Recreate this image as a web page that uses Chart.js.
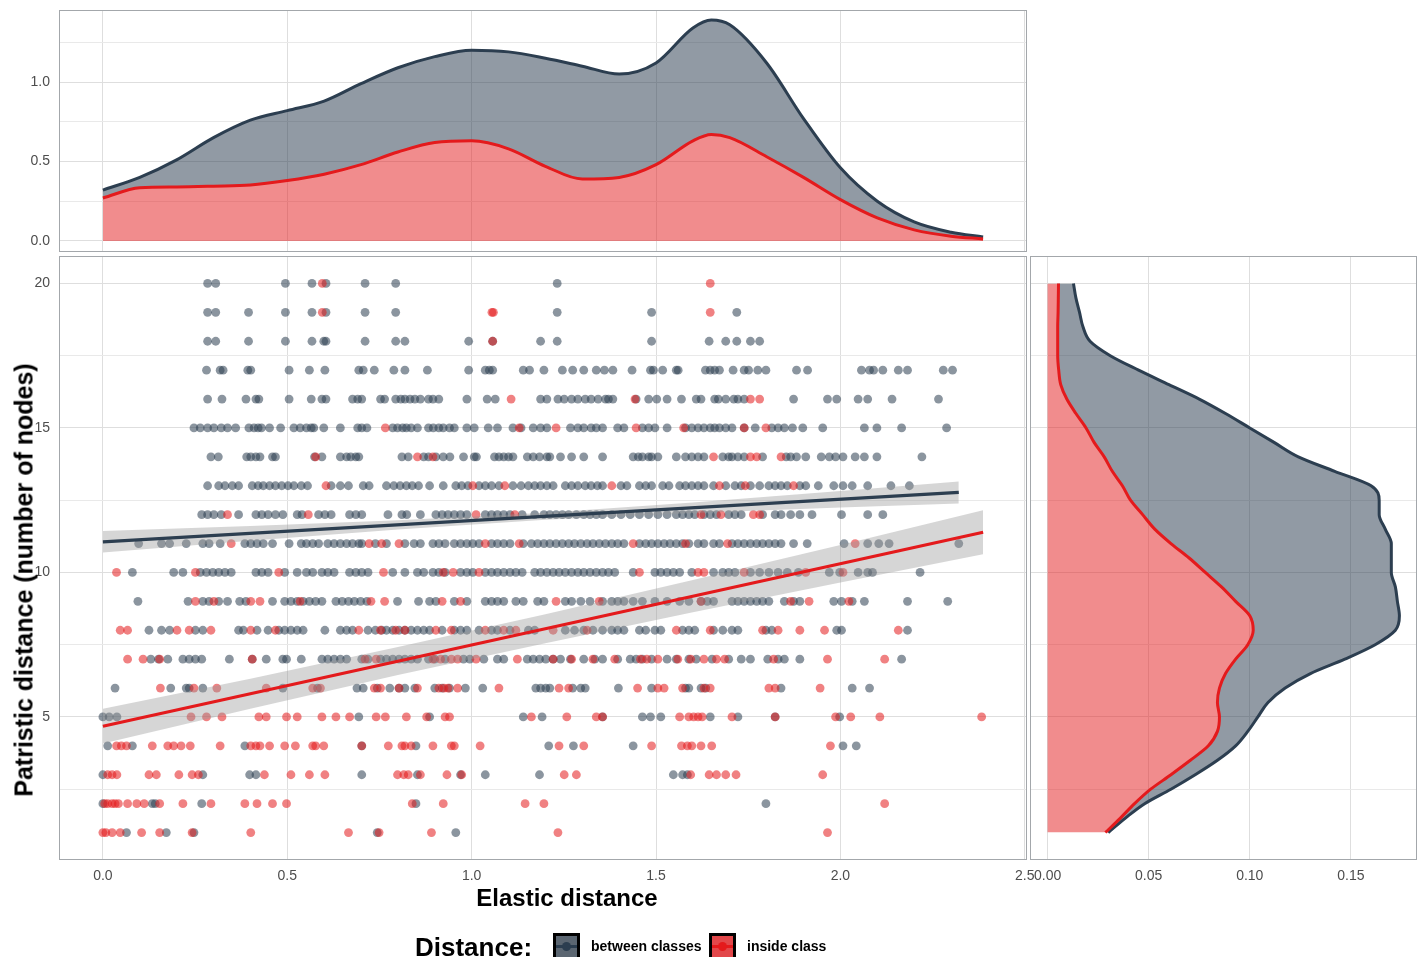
<!DOCTYPE html>
<html>
<head>
<meta charset="utf-8">
<title>Elastic vs patristic distance</title>
<script src="https://cdn.jsdelivr.net/npm/chart.js@4.4.1/dist/chart.umd.min.js"></script>
<style>
  html, body { margin: 0; padding: 0; background: #ffffff; }
  #page { position: relative; width: 1421px; height: 957px; overflow: hidden;
          font-family: "Liberation Sans", Arial, Helvetica, sans-serif; color: #000; }
  #page canvas { position: absolute; }
  .txt { position: absolute; white-space: nowrap; font-weight: bold; }
  .ytitle { left: 24px; top: 580px; font-size: 25px; line-height: 25px;
            transform: translate(-50%, -50%) rotate(-90deg); }
  .xtitle { left: 567px; top: 886px; font-size: 24px; line-height: 24px; transform: translateX(-50%); }
  .legtitle { left: 415px; top: 934px; font-size: 26px; line-height: 26px; }
  .legtext { top: 939px; font-size: 14px; line-height: 14px; }
  .key { position: absolute; top: 933px; width: 27px; height: 27px; box-sizing: border-box;
         border: 3px solid #000; overflow: hidden; }
  .key .kline { position: absolute; left: 0; right: 0; top: 9px; height: 3px; }
  .key .kdot { position: absolute; left: 6px; top: 6px; width: 9px; height: 9px; border-radius: 50%; }
</style>
</head>
<body>
<div id="page">
  <canvas id="topDensity" width="1030" height="256" style="left:0px;top:0px"></canvas>
  <canvas id="scatter" width="1045" height="707" style="left:0px;top:250px"></canvas>
  <canvas id="rightDensity" width="401" height="707" style="left:1020px;top:250px"></canvas>

  <div class="txt ytitle">Patristic distance (number of nodes)</div>
  <div class="txt xtitle">Elastic distance</div>

  <div class="txt legtitle">Distance:</div>
  <div class="key" style="left:553px;background:#5b6671"><span class="kline" style="background:#2c3e50"></span><span class="kdot" style="background:#2c3e50"></span></div>
  <div class="txt legtext" style="left:591px">between classes</div>
  <div class="key" style="left:709px;background:#e2474a"><span class="kline" style="background:#e41a1c"></span><span class="kdot" style="background:#e41a1c"></span></div>
  <div class="txt legtext" style="left:747px">inside class</div>
</div>

<script>
// ---------- scatter points: elastic distance per patristic level ----------
const levels = [1, 2, 3, 4, 5, 6, 7, 8, 9, 10, 11, 12, 13, 14, 15, 16, 17, 18, 19, 20];

const betweenL1 = [0.064, 0.172, 0.247, 0.744, 0.957];
const betweenL2 = [0.000, 0.134, 0.142, 0.268, 0.849, 1.798];
const betweenL3 = [0.000, 0.271, 0.398, 0.415, 0.702, 0.853, 0.970, 1.037, 1.184, 1.547, 1.572, 1.585];
const betweenL4 = [0.013, 0.080, 0.385, 0.702, 0.849, 1.209, 1.276, 1.438, 2.007, 2.043];
const betweenL5 = [0.000, 0.017, 0.038, 0.694, 0.886, 1.140, 1.191, 1.355, 1.463, 1.485, 1.513, 1.647, 1.722, 1.823, 1.998];
const betweenL6 = [0.033, 0.184, 0.226, 0.234, 0.271, 0.488, 0.582, 0.689, 0.706, 0.744, 0.778, 0.803, 0.819, 0.846, 0.900, 0.920, 0.940, 0.983, 1.030, 1.174, 1.187, 1.201, 1.212, 1.274, 1.296, 1.308, 1.398, 1.488, 1.580, 1.589, 1.622, 1.635, 1.839, 2.032, 2.079];
const betweenL7 = [0.130, 0.151, 0.176, 0.217, 0.234, 0.251, 0.268, 0.343, 0.405, 0.443, 0.488, 0.498, 0.538, 0.594, 0.610, 0.627, 0.644, 0.661, 0.702, 0.719, 0.753, 0.769, 0.786, 0.803, 0.819, 0.836, 0.853, 0.883, 0.900, 0.928, 0.978, 0.995, 1.033, 1.070, 1.087, 1.151, 1.167, 1.184, 1.201, 1.221, 1.241, 1.268, 1.304, 1.334, 1.355, 1.396, 1.430, 1.446, 1.463, 1.488, 1.530, 1.555, 1.589, 1.609, 1.652, 1.697, 1.731, 1.756, 1.803, 1.831, 1.848, 1.890, 2.166];
const betweenL8 = [0.125, 0.159, 0.181, 0.251, 0.271, 0.368, 0.381, 0.418, 0.448, 0.477, 0.493, 0.510, 0.527, 0.543, 0.602, 0.644, 0.661, 0.677, 0.719, 0.739, 0.756, 0.769, 0.786, 0.803, 0.819, 0.836, 0.853, 0.870, 0.886, 0.920, 0.953, 0.970, 0.987, 1.020, 1.054, 1.070, 1.104, 1.154, 1.171, 1.254, 1.279, 1.304, 1.329, 1.355, 1.380, 1.396, 1.413, 1.455, 1.472, 1.497, 1.513, 1.572, 1.589, 1.605, 1.656, 1.681, 1.706, 1.722, 1.798, 1.814, 1.990, 2.003, 2.182];
const betweenL9 = [0.095, 0.231, 0.271, 0.288, 0.314, 0.338, 0.371, 0.388, 0.460, 0.493, 0.510, 0.527, 0.543, 0.560, 0.577, 0.594, 0.632, 0.649, 0.666, 0.682, 0.699, 0.716, 0.799, 0.856, 0.886, 0.903, 0.953, 0.987, 1.037, 1.054, 1.070, 1.087, 1.120, 1.140, 1.179, 1.196, 1.254, 1.271, 1.296, 1.321, 1.355, 1.380, 1.396, 1.413, 1.438, 1.463, 1.497, 1.530, 1.564, 1.589, 1.622, 1.639, 1.656, 1.706, 1.722, 1.739, 1.756, 1.773, 1.789, 1.806, 1.848, 1.873, 1.890, 1.982, 2.003, 2.032, 2.065, 2.182, 2.291];
const betweenL10 = [0.080, 0.192, 0.217, 0.264, 0.281, 0.298, 0.314, 0.331, 0.348, 0.415, 0.431, 0.448, 0.493, 0.527, 0.552, 0.569, 0.594, 0.610, 0.627, 0.669, 0.686, 0.702, 0.719, 0.786, 0.819, 0.853, 0.870, 0.895, 0.911, 0.928, 0.970, 0.987, 1.003, 1.037, 1.054, 1.070, 1.087, 1.104, 1.120, 1.137, 1.171, 1.187, 1.204, 1.221, 1.237, 1.254, 1.271, 1.288, 1.304, 1.321, 1.338, 1.355, 1.371, 1.388, 1.438, 1.497, 1.513, 1.530, 1.547, 1.564, 1.597, 1.656, 1.681, 1.697, 1.714, 1.756, 1.781, 1.806, 1.831, 1.856, 1.886, 1.970, 1.998, 2.048, 2.074, 2.087, 2.216];
const betweenL11 = [0.097, 0.159, 0.181, 0.226, 0.271, 0.288, 0.318, 0.385, 0.401, 0.418, 0.435, 0.460, 0.505, 0.538, 0.552, 0.569, 0.585, 0.610, 0.627, 0.644, 0.661, 0.677, 0.694, 0.702, 0.739, 0.769, 0.819, 0.844, 0.861, 0.895, 0.911, 0.928, 0.953, 0.970, 0.987, 1.003, 1.020, 1.054, 1.070, 1.087, 1.104, 1.140, 1.162, 1.179, 1.196, 1.212, 1.229, 1.246, 1.263, 1.279, 1.296, 1.313, 1.329, 1.346, 1.363, 1.380, 1.396, 1.413, 1.455, 1.472, 1.488, 1.505, 1.522, 1.538, 1.555, 1.572, 1.589, 1.614, 1.630, 1.656, 1.672, 1.706, 1.722, 1.739, 1.756, 1.773, 1.789, 1.806, 1.823, 1.839, 1.873, 1.910, 2.010, 2.074, 2.104, 2.132, 2.321];
const betweenL12 = [0.268, 0.284, 0.301, 0.321, 0.368, 0.415, 0.431, 0.448, 0.468, 0.488, 0.527, 0.540, 0.585, 0.602, 0.619, 0.669, 0.686, 0.702, 0.773, 0.811, 0.824, 0.861, 0.903, 0.920, 0.936, 0.953, 0.970, 0.987, 1.037, 1.054, 1.070, 1.087, 1.104, 1.137, 1.171, 1.196, 1.212, 1.229, 1.246, 1.263, 1.284, 1.304, 1.321, 1.338, 1.355, 1.380, 1.405, 1.430, 1.455, 1.480, 1.505, 1.530, 1.555, 1.572, 1.589, 1.605, 1.630, 1.647, 1.664, 1.697, 1.714, 1.731, 1.789, 1.823, 1.839, 1.865, 1.890, 1.923, 2.003, 2.074, 2.115];
const betweenL13 = [0.284, 0.314, 0.331, 0.351, 0.368, 0.405, 0.421, 0.435, 0.452, 0.468, 0.485, 0.502, 0.518, 0.538, 0.555, 0.619, 0.644, 0.666, 0.706, 0.722, 0.769, 0.789, 0.806, 0.823, 0.839, 0.856, 0.886, 0.923, 0.957, 0.973, 0.990, 1.020, 1.037, 1.054, 1.074, 1.112, 1.134, 1.154, 1.171, 1.187, 1.204, 1.221, 1.254, 1.271, 1.288, 1.308, 1.324, 1.341, 1.355, 1.405, 1.421, 1.455, 1.472, 1.488, 1.518, 1.535, 1.564, 1.580, 1.597, 1.614, 1.630, 1.656, 1.689, 1.714, 1.731, 1.756, 1.781, 1.806, 1.823, 1.839, 1.856, 1.890, 1.906, 1.940, 1.982, 2.007, 2.032, 2.074, 2.137, 2.187];
const betweenL14 = [0.293, 0.313, 0.390, 0.401, 0.415, 0.426, 0.460, 0.468, 0.574, 0.594, 0.644, 0.661, 0.672, 0.686, 0.694, 0.811, 0.828, 0.870, 0.883, 0.903, 0.923, 0.941, 0.978, 1.007, 1.013, 1.062, 1.074, 1.087, 1.100, 1.112, 1.151, 1.167, 1.184, 1.204, 1.212, 1.241, 1.271, 1.304, 1.355, 1.438, 1.452, 1.463, 1.480, 1.488, 1.505, 1.555, 1.580, 1.597, 1.614, 1.630, 1.681, 1.697, 1.706, 1.722, 1.739, 1.789, 1.853, 1.865, 1.881, 1.906, 1.948, 1.970, 1.987, 2.007, 2.040, 2.065, 2.099, 2.221];
const betweenL15 = [0.247, 0.264, 0.284, 0.301, 0.321, 0.338, 0.360, 0.396, 0.410, 0.421, 0.430, 0.452, 0.482, 0.518, 0.535, 0.552, 0.565, 0.572, 0.599, 0.644, 0.691, 0.702, 0.716, 0.786, 0.799, 0.813, 0.823, 0.836, 0.853, 0.883, 0.896, 0.911, 0.923, 0.940, 0.953, 0.987, 1.007, 1.045, 1.070, 1.112, 1.134, 1.167, 1.187, 1.204, 1.268, 1.288, 1.304, 1.324, 1.338, 1.355, 1.396, 1.413, 1.463, 1.480, 1.497, 1.530, 1.580, 1.597, 1.614, 1.630, 1.647, 1.659, 1.672, 1.689, 1.706, 1.739, 1.769, 1.814, 1.831, 1.848, 1.870, 1.898, 1.952, 2.065, 2.099, 2.166, 2.288];
const betweenL16 = [0.284, 0.323, 0.388, 0.415, 0.423, 0.505, 0.565, 0.594, 0.605, 0.677, 0.691, 0.702, 0.753, 0.764, 0.794, 0.808, 0.819, 0.833, 0.846, 0.861, 0.883, 0.895, 0.911, 0.987, 1.042, 1.064, 1.187, 1.204, 1.234, 1.251, 1.271, 1.288, 1.308, 1.324, 1.343, 1.363, 1.371, 1.383, 1.446, 1.480, 1.502, 1.530, 1.569, 1.609, 1.622, 1.659, 1.669, 1.689, 1.711, 1.722, 1.739, 1.873, 1.965, 1.990, 2.048, 2.074, 2.140, 2.266];
const betweenL17 = [0.281, 0.318, 0.326, 0.393, 0.401, 0.505, 0.560, 0.602, 0.694, 0.706, 0.736, 0.789, 0.819, 0.880, 0.992, 1.037, 1.048, 1.057, 1.140, 1.157, 1.196, 1.246, 1.274, 1.304, 1.338, 1.360, 1.383, 1.435, 1.485, 1.493, 1.518, 1.555, 1.560, 1.634, 1.647, 1.659, 1.672, 1.709, 1.739, 1.751, 1.776, 1.798, 1.881, 1.911, 2.057, 2.079, 2.090, 2.115, 2.157, 2.182, 2.279, 2.304];
const betweenL18 = [0.284, 0.306, 0.395, 0.495, 0.567, 0.599, 0.605, 0.711, 0.794, 0.819, 0.992, 1.057, 1.187, 1.232, 1.488, 1.644, 1.689, 1.719, 1.756, 1.781];
const betweenL19 = [0.284, 0.306, 0.395, 0.495, 0.567, 0.605, 0.711, 0.794, 1.232, 1.488, 1.719];
const betweenL20 = [0.284, 0.306, 0.495, 0.567, 0.605, 0.711, 0.794, 1.232];

const insideL1 = [0.000, 0.008, 0.025, 0.047, 0.105, 0.154, 0.242, 0.401, 0.666, 0.749, 0.891, 1.234, 1.965];
const insideL2 = [0.005, 0.013, 0.025, 0.033, 0.042, 0.067, 0.092, 0.112, 0.154, 0.217, 0.293, 0.385, 0.418, 0.460, 0.498, 0.839, 0.923, 1.145, 1.196, 2.120];
const insideL3 = [0.013, 0.025, 0.038, 0.125, 0.145, 0.206, 0.242, 0.259, 0.438, 0.510, 0.560, 0.602, 0.799, 0.816, 0.828, 0.861, 0.933, 0.973, 1.251, 1.284, 1.594, 1.644, 1.664, 1.689, 1.717, 1.952];
const insideL4 = [0.037, 0.050, 0.064, 0.134, 0.176, 0.192, 0.212, 0.237, 0.318, 0.401, 0.415, 0.426, 0.452, 0.493, 0.522, 0.569, 0.577, 0.599, 0.702, 0.774, 0.811, 0.819, 0.836, 0.895, 0.945, 0.953, 1.023, 1.237, 1.304, 1.488, 1.569, 1.585, 1.597, 1.622, 1.651, 1.973];
const insideL5 = [0.239, 0.281, 0.323, 0.423, 0.443, 0.498, 0.527, 0.594, 0.632, 0.669, 0.741, 0.766, 0.823, 0.878, 0.928, 0.940, 1.162, 1.258, 1.338, 1.355, 1.564, 1.589, 1.602, 1.614, 1.625, 1.706, 1.823, 1.987, 2.028, 2.107, 2.383];
const insideL6 = [0.156, 0.247, 0.309, 0.443, 0.569, 0.590, 0.736, 0.753, 0.803, 0.853, 0.911, 0.925, 0.936, 0.962, 1.074, 1.237, 1.263, 1.450, 1.505, 1.522, 1.572, 1.630, 1.647, 1.806, 1.823, 1.945];
const insideL7 = [0.067, 0.109, 0.154, 0.405, 0.711, 0.741, 0.895, 0.916, 0.945, 0.962, 1.012, 1.124, 1.221, 1.271, 1.329, 1.388, 1.458, 1.475, 1.505, 1.559, 1.594, 1.630, 1.664, 1.686, 1.819, 1.965, 2.120];
const insideL8 = [0.047, 0.067, 0.201, 0.234, 0.293, 0.401, 0.468, 0.694, 0.753, 0.794, 0.819, 0.903, 0.945, 1.037, 1.087, 1.120, 1.221, 1.313, 1.555, 1.647, 1.789, 1.831, 1.890, 1.957, 2.157];
const insideL9 = [0.251, 0.301, 0.401, 0.426, 0.535, 0.727, 0.764, 0.920, 0.970, 1.229, 1.346, 1.622, 1.865, 1.915, 2.023];
const insideL10 = [0.037, 0.251, 0.477, 0.761, 0.923, 0.950, 1.020, 1.455, 1.614, 1.630, 1.739, 1.906, 2.007];
const insideL11 = [0.348, 0.722, 0.756, 0.803, 1.037, 1.129, 1.438, 1.580, 1.694, 2.040];
const insideL12 = [0.338, 0.557, 1.012, 1.117, 1.622, 1.676, 1.764, 1.781];
const insideL13 = [0.605, 1.003, 1.090, 1.380, 1.672, 1.742, 1.873];
const insideL14 = [0.577, 0.853, 0.895, 1.656, 1.756, 1.773, 1.839];
const insideL15 = [0.766, 1.129, 1.229, 1.446, 1.575, 1.739, 1.798];
const insideL16 = [1.107, 1.443, 1.756, 1.781];
const insideL17 = [];
const insideL18 = [1.057];
const insideL19 = [0.595, 1.055, 1.059, 1.647];
const insideL20 = [0.595, 1.647];

// ---------- linear fits with confidence bands ----------
const fitBetweenX = [0, 2.321];
const fitBetweenY = [11.06, 12.77];
const bandBetweenX = [0, 0.4, 0.8, 1.2, 1.6, 2.0, 2.321];
const bandBetweenLow = [10.69, 11.10, 11.49, 11.82, 12.06, 12.25, 12.39];
const bandBetweenHigh = [11.43, 11.61, 11.81, 12.07, 12.42, 12.82, 13.15];

const fitInsideX = [0, 2.387];
const fitInsideY = [4.68, 11.39];
const bandInsideX = [0, 0.4, 0.8, 1.2, 1.6, 2.0, 2.387];
const bandInsideLow = [4.08, 5.28, 6.45, 7.55, 8.62, 9.65, 10.63];
const bandInsideHigh = [5.28, 6.32, 7.42, 8.55, 9.74, 10.95, 12.15];

// ---------- marginal densities (stacked: inside class, then total) ----------
const topDensX = [0, 0.1, 0.2, 0.3, 0.4, 0.5, 0.6, 0.7, 0.8, 0.9, 1.0, 1.1, 1.2, 1.3, 1.4, 1.5, 1.6, 1.65, 1.7, 1.8, 1.9, 2.0, 2.1, 2.2, 2.3, 2.387];
const topInside = [0.27, 0.335, 0.34, 0.345, 0.352, 0.38, 0.42, 0.48, 0.56, 0.62, 0.63, 0.58, 0.47, 0.39, 0.40, 0.48, 0.63, 0.67, 0.65, 0.53, 0.40, 0.26, 0.145, 0.07, 0.03, 0.013];
const topTotal = [0.32, 0.40, 0.51, 0.65, 0.76, 0.82, 0.88, 0.99, 1.09, 1.16, 1.20, 1.19, 1.15, 1.10, 1.05, 1.12, 1.34, 1.39, 1.36, 1.12, 0.77, 0.46, 0.25, 0.12, 0.055, 0.025];

const rightLevels = [1, 1.5, 2, 2.5, 3, 3.5, 4, 4.5, 5, 5.5, 6, 6.5, 7, 7.5, 8, 8.5, 9, 9.5, 10, 10.5, 11, 11.5, 12, 12.5, 13, 13.5, 14, 14.5, 15, 15.5, 16, 16.5, 17, 17.5, 18, 18.5, 19, 19.5, 20];
const rightInside = [0.0286, 0.036, 0.043, 0.051, 0.061, 0.0706, 0.0795, 0.084, 0.085, 0.084, 0.085, 0.088, 0.093, 0.099, 0.1017, 0.100, 0.093, 0.086, 0.078, 0.070, 0.061, 0.053, 0.047, 0.041, 0.037, 0.032, 0.028, 0.023, 0.019, 0.014, 0.0095, 0.0065, 0.0055, 0.005, 0.005, 0.005, 0.0052, 0.0053, 0.0054];
const rightTotal = [0.030, 0.0385, 0.048, 0.061, 0.073, 0.084, 0.093, 0.099, 0.104, 0.109, 0.1175, 0.130, 0.147, 0.162, 0.172, 0.174, 0.173, 0.172, 0.170, 0.170, 0.170, 0.167, 0.164, 0.164, 0.160, 0.142, 0.124, 0.112, 0.100, 0.088, 0.075, 0.060, 0.045, 0.031, 0.021, 0.0175, 0.0158, 0.014, 0.0128];

// ---------- axis ticks ----------
const elasticTicks = [0, 0.5, 1, 1.5, 2, 2.5];
const elasticLabels = ['0.0', '0.5', '1.0', '1.5', '2.0', '2.5'];
const topDensTicks = [0, 0.25, 0.5, 0.75, 1, 1.25];
const topDensLabels = ['0.0', '', '0.5', '', '1.0', ''];
const patristicTicks = [2.5, 5, 7.5, 10, 12.5, 15, 17.5, 20];
const patristicLabels = ['', '5', '', '10', '', '15', '', '20'];
const rightDensTicks = [0, 0.05, 0.1, 0.15];
const rightDensLabels = ['0.00', '0.05', '0.10', '0.15'];

// ---------- styling ----------
const NAVY = '#2c3e50';
const RED = '#e41a1c';
const GRID_MAJOR = '#dedede';
const GRID_MINOR = '#e9e9e9';
const TICK_COLOR = '#4d4d4d';
const FONT = '"Liberation Sans", Arial, Helvetica, sans-serif';

Chart.defaults.font.family = FONT;
Chart.defaults.animation = false;

const panelBorder = {
  id: 'panelBorder',
  afterDraw(chart) {
    const { ctx, chartArea: a } = chart;
    ctx.save();
    ctx.strokeStyle = '#a3a7ab';
    ctx.lineWidth = 1;
    ctx.strokeRect(a.left + 0.5, a.top + 0.5, a.right - a.left - 1, a.bottom - a.top - 1);
    ctx.restore();
  }
};

const zip = (xs, ys) => xs.map((x, i) => ({ x, y: ys[i] }));
const fixedTicks = values => scale => { scale.ticks = values.map(v => ({ value: v })); };
// fixed axis thickness, and no extra room reserved for overhanging tick labels
const fixWidth = w => s => { s.width = w; s.paddingTop = 0; s.paddingBottom = 0; s.paddingLeft = 0; s.paddingRight = 0; };
const fixHeight = h => s => { s.height = h; s.paddingTop = 0; s.paddingBottom = 0; s.paddingLeft = 0; s.paddingRight = 0; };
const gridFor = (majors) => ({
  drawTicks: false,
  lineWidth: 1,
  color: ctx => (ctx.tick && majors.includes(ctx.tick.value)) ? GRID_MAJOR : GRID_MINOR
});
const tickFont = { size: 14 };
const basePlugins = { legend: { display: false }, tooltip: { enabled: false } };

// ---------- top marginal: elastic distance density ----------
new Chart(document.getElementById('topDensity'), {
  type: 'line',
  data: {
    datasets: [
      { data: zip(topDensX, topInside), borderColor: RED, borderWidth: 3,
        backgroundColor: 'rgba(228,26,28,0.5)', fill: 'origin', pointRadius: 0,
        cubicInterpolationMode: 'monotone' },
      { data: zip(topDensX, topTotal), borderColor: NAVY, borderWidth: 3,
        backgroundColor: 'rgba(44,62,80,0.52)', fill: 0, pointRadius: 0,
        cubicInterpolationMode: 'monotone' }
    ]
  },
  options: {
    responsive: false, events: [],
    layout: { padding: { top: 10, right: 3, bottom: 4, left: 0 } },
    plugins: basePlugins,
    scales: {
      x: { type: 'linear', min: -0.119, max: 2.506,
           afterBuildTicks: fixedTicks(elasticTicks),
           afterFit: fixHeight(0),
           ticks: { display: false }, border: { display: false },
           grid: gridFor(elasticTicks) },
      y: { type: 'linear', min: -0.0695, max: 1.4535,
           afterBuildTicks: fixedTicks(topDensTicks),
           afterFit: fixWidth(59),
           border: { display: false },
           ticks: { autoSkip: false, padding: 9, color: TICK_COLOR, font: tickFont,
                    callback: (v, i) => topDensLabels[i] },
           grid: gridFor([0, 0.5, 1]) }
    }
  },
  plugins: [panelBorder]
});

// ---------- main scatter ----------
const betweenByLevel = [betweenL1, betweenL2, betweenL3, betweenL4, betweenL5, betweenL6, betweenL7, betweenL8, betweenL9, betweenL10,
                        betweenL11, betweenL12, betweenL13, betweenL14, betweenL15, betweenL16, betweenL17, betweenL18, betweenL19, betweenL20];
const insideByLevel = [insideL1, insideL2, insideL3, insideL4, insideL5, insideL6, insideL7, insideL8, insideL9, insideL10,
                       insideL11, insideL12, insideL13, insideL14, insideL15, insideL16, insideL17, insideL18, insideL19, insideL20];
const toPoints = rows => levels.flatMap((lv, i) => rows[i].map(x => ({ x, y: lv })));

const BAND = 'rgba(153,153,153,0.4)';
const lineDs = (data, extra) => Object.assign({ type: 'line', data, pointRadius: 0, borderWidth: 0, fill: false }, extra);

new Chart(document.getElementById('scatter'), {
  type: 'scatter',
  data: {
    datasets: [
      lineDs(zip(bandBetweenX, bandBetweenLow), { order: 2 }),
      lineDs(zip(bandBetweenX, bandBetweenHigh), { order: 2, fill: 0, backgroundColor: BAND }),
      lineDs(zip(bandInsideX, bandInsideLow), { order: 2 }),
      lineDs(zip(bandInsideX, bandInsideHigh), { order: 2, fill: 2, backgroundColor: BAND }),
      lineDs(zip(fitBetweenX, fitBetweenY), { order: 0, borderColor: NAVY, borderWidth: 3.2 }),
      lineDs(zip(fitInsideX, fitInsideY), { order: 0, borderColor: RED, borderWidth: 3.2 }),
      { label: 'inside class', data: toPoints(insideByLevel), order: 3,
        backgroundColor: 'rgba(228,26,28,0.55)', borderWidth: 0, pointRadius: 4.4 },
      { label: 'between classes', data: toPoints(betweenByLevel), order: 4,
        backgroundColor: 'rgba(44,62,80,0.55)', borderWidth: 0, pointRadius: 4.4 }
    ]
  },
  options: {
    responsive: false, events: [],
    layout: { padding: { top: 6, right: 18, bottom: 57, left: 0 } },
    plugins: basePlugins,
    scales: {
      x: { type: 'linear', min: -0.119, max: 2.506,
           afterBuildTicks: fixedTicks(elasticTicks),
           afterFit: fixHeight(40),
           border: { display: false },
           ticks: { autoSkip: false, maxRotation: 0, padding: 8, color: TICK_COLOR, font: tickFont,
                    callback: (v, i) => elasticLabels[i] },
           grid: gridFor(elasticTicks) },
      y: { type: 'linear', min: 0.05, max: 20.95,
           afterBuildTicks: fixedTicks(patristicTicks),
           afterFit: fixWidth(59),
           border: { display: false },
           ticks: { autoSkip: false, padding: 9, color: TICK_COLOR, font: tickFont,
                    callback: (v, i) => patristicLabels[i] },
           grid: gridFor([5, 10, 15, 20]) }
    }
  },
  plugins: [panelBorder]
});

// ---------- right marginal: patristic distance density ----------
new Chart(document.getElementById('rightDensity'), {
  type: 'line',
  data: {
    datasets: [
      { data: zip(rightInside, rightLevels), borderColor: RED, borderWidth: 3,
        backgroundColor: 'rgba(228,26,28,0.5)', fill: 'origin', pointRadius: 0,
        cubicInterpolationMode: 'monotone' },
      { data: zip(rightTotal, rightLevels), borderColor: NAVY, borderWidth: 3,
        backgroundColor: 'rgba(44,62,80,0.52)', fill: 0, pointRadius: 0,
        cubicInterpolationMode: 'monotone' }
    ]
  },
  options: {
    responsive: false, events: [], indexAxis: 'y',
    layout: { padding: { top: 6, right: 4, bottom: 57, left: 10 } },
    plugins: basePlugins,
    scales: {
      x: { type: 'linear', min: -0.0087, max: 0.1827,
           afterBuildTicks: fixedTicks(rightDensTicks),
           afterFit: fixHeight(40),
           border: { display: false },
           ticks: { autoSkip: false, maxRotation: 0, padding: 8, color: TICK_COLOR, font: tickFont,
                    callback: (v, i) => rightDensLabels[i] },
           grid: gridFor(rightDensTicks) },
      y: { type: 'linear', min: 0.05, max: 20.95,
           afterBuildTicks: fixedTicks(patristicTicks),
           afterFit: fixWidth(0),
           border: { display: false },
           ticks: { display: false },
           grid: gridFor([5, 10, 15, 20]) }
    }
  },
  plugins: [panelBorder]
});
</script>
</body>
</html>
